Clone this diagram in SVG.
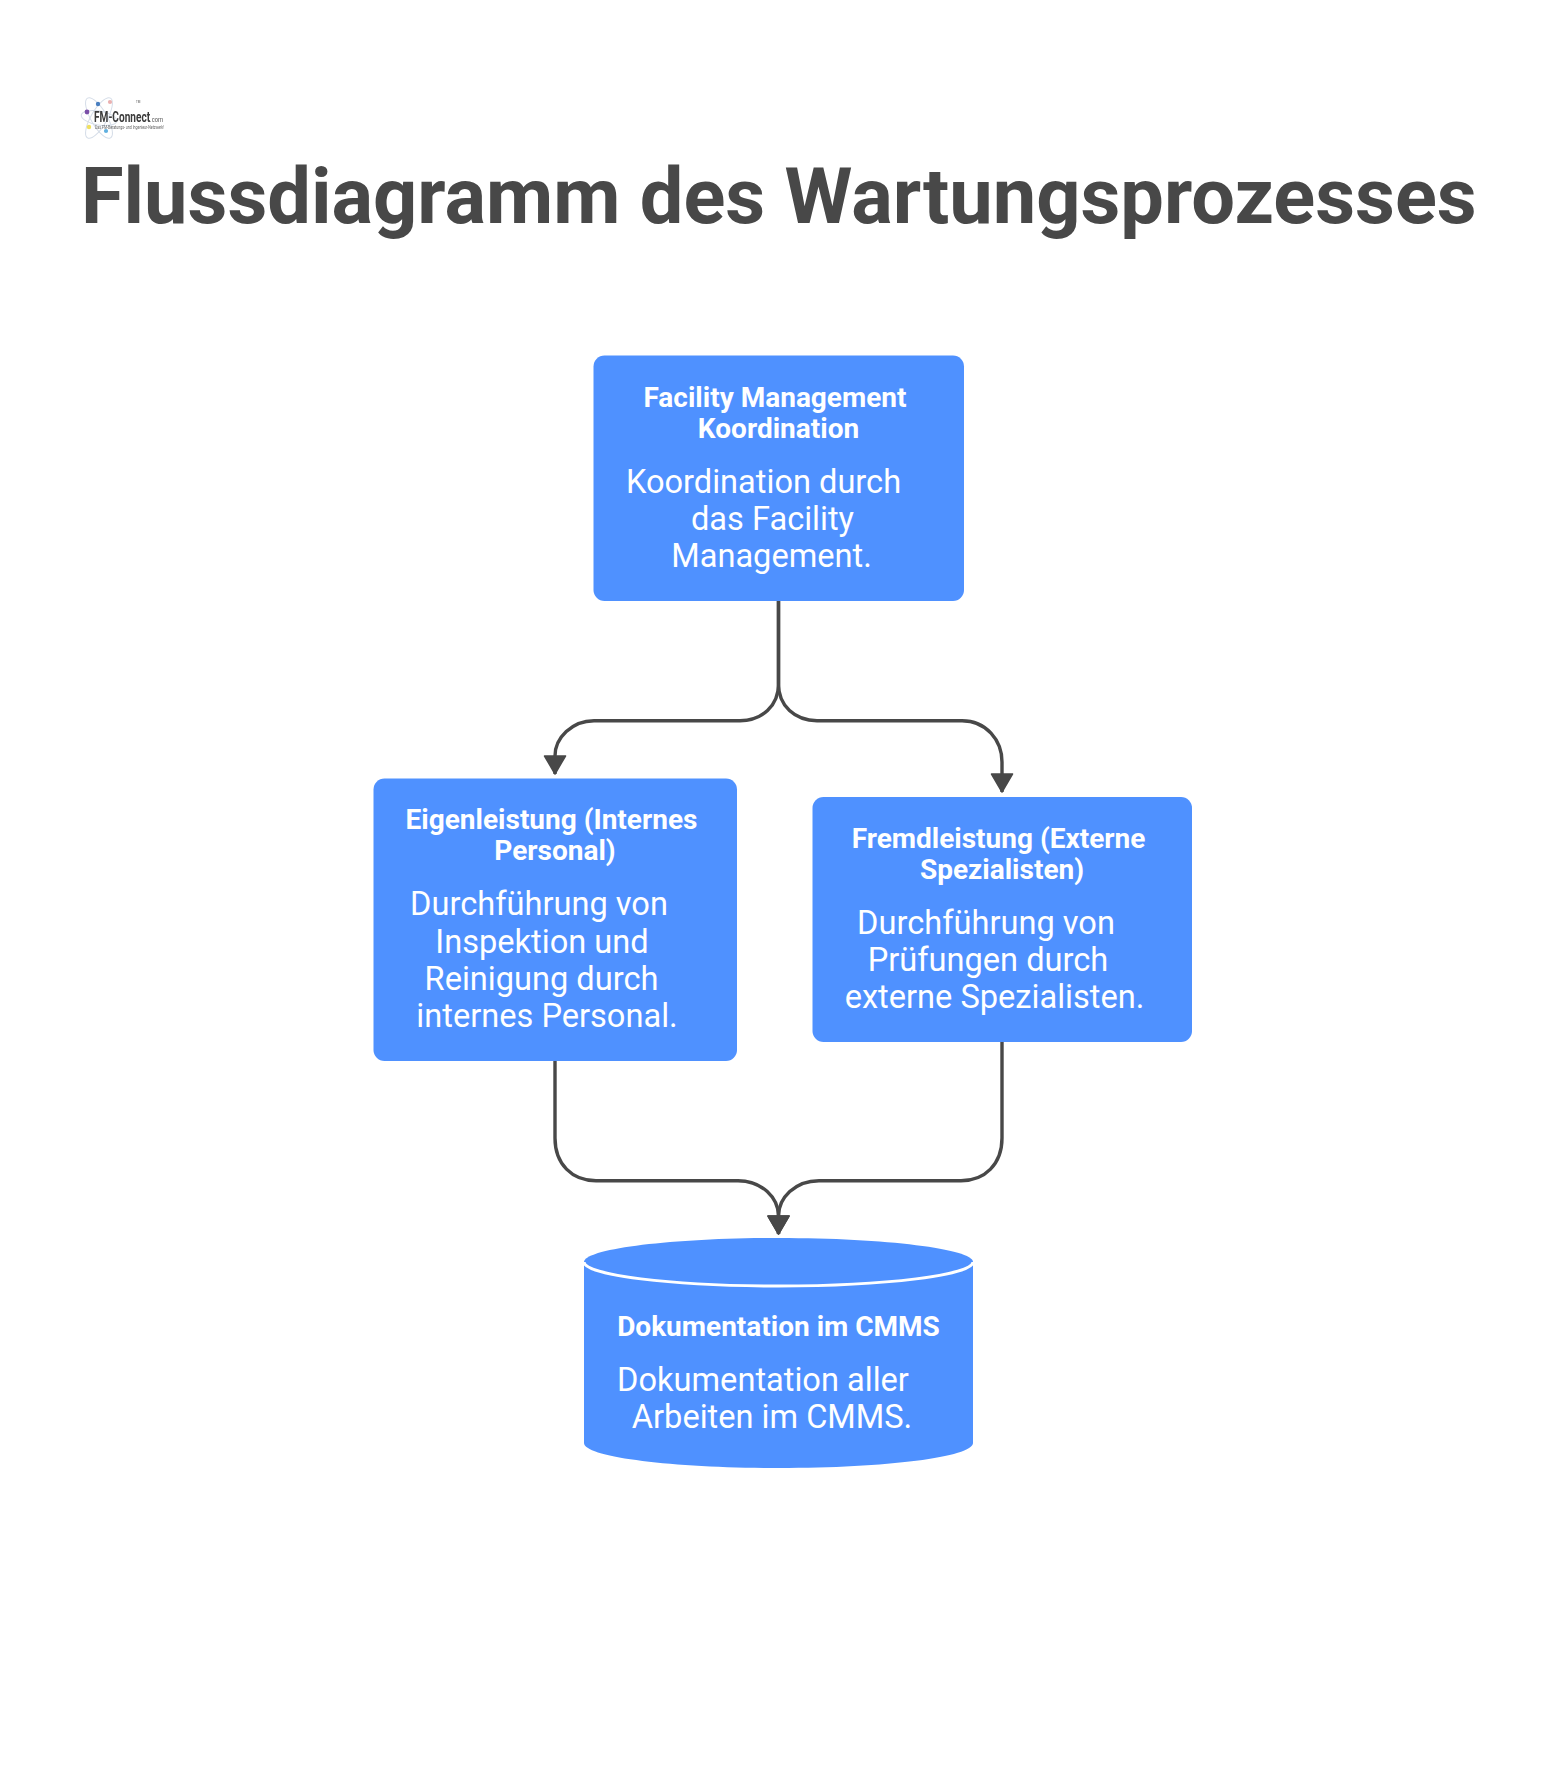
<svg xmlns="http://www.w3.org/2000/svg" width="1558" height="1774" viewBox="0 0 1558 1774">
<defs>
<style>
text{font-family:Roboto,"Liberation Sans",sans-serif}
.t{font-size:28px;font-weight:700;fill:#fff;text-anchor:middle}
.b{font-size:32.6px;font-weight:400;fill:#fff;text-anchor:middle}
.box{fill:#4f91ff}
.c{fill:none;stroke:#484848;stroke-width:3.4}
.orb{fill:none;stroke:#d5dde8;stroke-width:1}
</style>
<marker id="ah" markerUnits="userSpaceOnUse" markerWidth="20" markerHeight="24" refX="19" refY="12" orient="auto" viewBox="0 0 20 24"><path d="M1 1.5V22.5L19 12Z" fill="#484848" stroke="#484848" stroke-width="1.5" stroke-linejoin="round"/></marker>
<filter id="soft"><feGaussianBlur stdDeviation="0.5"/></filter>
</defs>
<rect width="1558" height="1774" fill="#fff"/>
<g id="logo" filter="url(#soft)">
<ellipse class="orb" cx="99" cy="118" rx="23" ry="8" transform="rotate(-60 99 118)"/>
<ellipse class="orb" cx="99" cy="118" rx="23" ry="8" transform="rotate(60 99 118)"/>
<ellipse class="orb" cx="99" cy="118" rx="18" ry="7" transform="rotate(10 99 118)"/>
<circle cx="87" cy="112" r="2.4" fill="#7a4fa8"/><circle cx="98" cy="104" r="2.2" fill="#4a7fc0"/><circle cx="110" cy="102" r="2.1" fill="#eab0b0"/><circle cx="89" cy="127" r="2.2" fill="#f0e060"/><circle cx="106" cy="131" r="2.1" fill="#60b0e0"/>
<text x="94" y="122" font-size="14" font-weight="700" fill="#3a3a3a" textLength="69" lengthAdjust="spacingAndGlyphs">FM-Connect<tspan font-size="8" font-weight="400" fill="#555">.com</tspan></text>
<text x="136" y="103" font-size="3" fill="#555">TM</text>
<text x="95" y="129" font-size="5" fill="#666" textLength="69" lengthAdjust="spacingAndGlyphs">Das FM-Beratungs- und Ingenieur-Netzwerk!</text>
</g>
<text id="title" x="81" y="223" font-size="77.6" font-weight="700" fill="#484848">Flussdiagramm des Wartungsprozesses</text>
<g id="connectors">
<path class="c" d="M778.5 601V684C778.5 706 762 720.7 740 720.7H594C572 720.7 555 738 555 756V774" marker-end="url(#ah)"/>
<path class="c" d="M778.5 601V684C778.5 706 795 720.7 817 720.7H962C986 720.7 1002 740 1002 762V792" marker-end="url(#ah)"/>
<path class="c" d="M555 1061V1138C555 1164 572 1180.7 596 1180.7H738C762 1180.7 778.5 1198 778.5 1216V1234" marker-end="url(#ah)"/>
<path class="c" d="M1002 1042V1138C1002 1164 985 1180.7 961 1180.7H819C795 1180.7 778.5 1198 778.5 1216V1234" marker-end="url(#ah)"/>
</g>
<g id="node-fm">
<rect class="box" x="593.5" y="355.5" width="370.5" height="245.5" rx="11"/>
<text class="t" x="775" y="406.5">Facility Management</text>
<text class="t" x="778.5" y="437.5">Koordination</text>
<text class="b" x="763.5" y="492.5">Koordination durch</text>
<text class="b" x="772.5" y="530">das Facility</text>
<text class="b" x="771.5" y="567">Management.</text>
</g>
<g id="node-eigen">
<rect class="box" x="373.5" y="778.5" width="363.5" height="282.5" rx="11"/>
<text class="t" x="551.5" y="828.5">Eigenleistung (Internes</text>
<text class="t" x="555" y="860">Personal)</text>
<text class="b" x="539" y="915">Durchführung von</text>
<text class="b" x="542" y="952.5">Inspektion und</text>
<text class="b" x="541.5" y="989.5">Reinigung durch</text>
<text class="b" x="547" y="1027">internes Personal.</text>
</g>
<g id="node-fremd">
<rect class="box" x="812.5" y="797" width="379.5" height="245" rx="11"/>
<text class="t" x="998.5" y="847.5">Fremdleistung (Externe</text>
<text class="t" x="1002" y="878.5">Spezialisten)</text>
<text class="b" x="986" y="933.5">Durchführung von</text>
<text class="b" x="988" y="970.5">Prüfungen durch</text>
<text class="b" x="994.5" y="1008">externe Spezialisten.</text>
</g>
<g id="node-cmms">
<path class="box" d="M584 1262C584 1249 671 1238 778.5 1238S973 1249 973 1262V1443C973 1457 886 1468 778.5 1468S584 1457 584 1443Z"/>
<path d="M584 1262C584 1275 671 1286 778.5 1286S973 1275 973 1262" fill="none" stroke="#fff" stroke-width="3"/>
<text class="t" x="778.5" y="1335.5">Dokumentation im CMMS</text>
<text class="b" x="763" y="1390.5">Dokumentation aller</text>
<text class="b" x="772" y="1427.5">Arbeiten im CMMS.</text>
</g>
</svg>
